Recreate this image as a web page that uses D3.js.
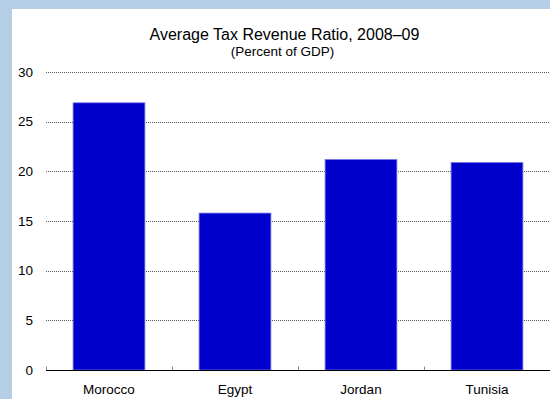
<!DOCTYPE html>
<html>
<head>
<meta charset="utf-8">
<script src="https://cdn.jsdelivr.net/npm/d3@7"></script>
<style>
  html, body { margin: 0; padding: 0; background: #b4cfe5; }
  svg { display: block; }
  text { font-family: "Liberation Sans", Arial, sans-serif; fill: #000; }
</style>
</head>
<body>
<svg id="chart" width="550" height="399"></svg>
<script>
// Average tax revenue ratio, 2008–09, percent of GDP
const countries = ["Morocco", "Egypt", "Jordan", "Tunisia"];
const taxRatio = [26.9, 15.8, 21.2, 20.9];
const yTicks = [0, 5, 10, 15, 20, 25, 30];
const titleText = "Average Tax Revenue Ratio, 2008\u201309";
const subtitleText = "(Percent of GDP)";

const W = 550, H = 399;
const margin = { left: 46, right: 0, top: 72, bottom: 29 };
const font = "'Liberation Sans', Arial, sans-serif";

const svg = d3.select("#chart");

// white chart panel on the blue page background
svg.append("rect")
  .attr("x", 12).attr("y", 9)
  .attr("width", W - 12).attr("height", H - 9)
  .attr("fill", "#fff");

const x = d3.scaleBand()
  .domain(countries)
  .range([margin.left, W - margin.right])
  .paddingInner(0.43)
  .paddingOuter(0.215);

const y = d3.scaleLinear()
  .domain([0, 30])
  .range([H - margin.bottom, margin.top]);

// dotted horizontal gridlines
svg.append("g")
  .selectAll("line")
  .data(yTicks.filter(d => d > 0))
  .join("line")
  .attr("x1", margin.left).attr("x2", W - margin.right)
  .attr("y1", d => Math.round(y(d)) + 0.5)
  .attr("y2", d => Math.round(y(d)) + 0.5)
  .attr("stroke", "#555")
  .attr("stroke-width", 1)
  .attr("stroke-dasharray", "1,1");

// bars
svg.append("g")
  .selectAll("rect")
  .data(countries.map((c, i) => ({ c, v: taxRatio[i] })))
  .join("rect")
  .attr("x", d => x(d.c))
  .attr("y", d => y(d.v))
  .attr("width", x.bandwidth())
  .attr("height", d => y(0) - y(d.v))
  .attr("fill", "#0000cc")
  .attr("stroke", "#7b7be6")
  .attr("stroke-width", 0.8);

// y-axis labels
const yAxis = d3.axisLeft(y)
  .tickValues(yTicks)
  .tickSize(0)
  .tickPadding(13);
svg.append("g")
  .attr("transform", `translate(${margin.left},0)`)
  .call(yAxis)
  .call(g => g.select(".domain").remove())
  .call(g => g.selectAll("text")
    .attr("font-size", 13.5)
    .attr("font-family", font));

// category axis: baseline with inward tick marks at band boundaries
const xBase = Math.round(y(0)) + 0.5;
const step = x.step();
const boundaries = d3.range(countries.length + 1)
  .map(i => margin.left + i * step);
svg.append("g")
  .selectAll("line")
  .data(boundaries)
  .join("line")
  .attr("x1", d => Math.round(d) + 0.5).attr("x2", d => Math.round(d) + 0.5)
  .attr("y1", xBase).attr("y2", xBase - 4)
  .attr("stroke", "#888");
svg.append("line")
  .attr("x1", margin.left).attr("x2", W - margin.right)
  .attr("y1", xBase).attr("y2", xBase)
  .attr("stroke", "#000")
  .attr("stroke-width", 1.2);

svg.append("g")
  .selectAll("text")
  .data(countries)
  .join("text")
  .attr("x", d => x(d) + x.bandwidth() / 2)
  .attr("y", xBase + 23)
  .attr("text-anchor", "middle")
  .attr("font-size", 13.5)
  .text(d => d);

// titles
svg.append("text")
  .attr("x", 284.5).attr("y", 40)
  .attr("text-anchor", "middle")
  .attr("font-size", 16)
  .text(titleText);
svg.append("text")
  .attr("x", 282.5).attr("y", 56)
  .attr("text-anchor", "middle")
  .attr("font-size", 13.5)
  .text(subtitleText);
</script>
</body>
</html>
